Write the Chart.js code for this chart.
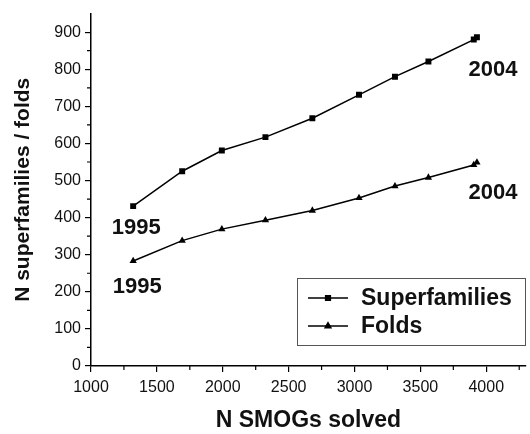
<!DOCTYPE html>
<html>
<head>
  <title>SMOGs solved</title>
  <script src="https://cdn.jsdelivr.net/npm/chart.js"></script>
  <style>
    body { margin: 0; background: #fff; }
    #wrap { width: 530px; height: 434px; position: relative; }
  </style>
</head>
<body>
  <div id="wrap"><canvas id="smogChart"></canvas></div>

  <script>
    // values
    const smogs = [1320, 1692, 1993, 2324, 2680, 3034, 3307, 3561, 3905, 3929];
    const superfamilies = [431, 525, 581, 617, 668, 731, 780, 821, 880, 886];
    const folds = [283, 338, 369, 393, 419, 453, 485, 508, 542, 549];
    const seriesNames = ['Superfamilies', 'Folds'];
    const xTicks = [1000, 1500, 2000, 2500, 3000, 3500, 4000];
    const yTicks = [0, 100, 200, 300, 400, 500, 600, 700, 800, 900];
    const startYear = '1995';
    const endYear = '2004';

    const toPoints = (ys) => smogs.map((x, i) => ({ x: x, y: ys[i] }));

    // minor ticks, year labels and the boxed legend
    const extras = {
      id: 'extras',
      afterDraw(chart) {
        const ctx = chart.ctx;
        const xs = chart.scales.x, ys = chart.scales.y;
        ctx.save();
        ctx.strokeStyle = '#000';
        ctx.lineWidth = 1.2;
        ctx.beginPath();
        for (let v = 1250; v < 4300; v += 500) {
          const px = xs.getPixelForValue(v);
          ctx.moveTo(px, xs.top); ctx.lineTo(px, xs.top + 4);
        }
        for (let v = 50; v < 950; v += 100) {
          const py = ys.getPixelForValue(v);
          ctx.moveTo(ys.right, py); ctx.lineTo(ys.right - 4, py);
        }
        ctx.stroke();

        // year labels next to first and last points
        ctx.fillStyle = '#111';
        ctx.font = 'bold 22px "Liberation Sans", Arial, sans-serif';
        ctx.textAlign = 'center';
        ctx.textBaseline = 'middle';
        const offs = [[3, 22, 16, 33], [4, 26, 16, 31]];
        chart.data.datasets.forEach((ds, i) => {
          const first = ds.data[0], last = ds.data[ds.data.length - 1];
          ctx.fillText(startYear, xs.getPixelForValue(first.x) + offs[i][0], ys.getPixelForValue(first.y) + offs[i][1]);
          ctx.fillText(endYear, xs.getPixelForValue(last.x) + offs[i][2], ys.getPixelForValue(last.y) + offs[i][3]);
        });

        // legend box
        const bx = 297, by = 278, bw = 228, bh = 67;
        ctx.strokeStyle = '#555';
        ctx.lineWidth = 1;
        ctx.strokeRect(bx + 0.5, by + 0.5, bw, bh);
        ctx.font = 'bold 23px "Liberation Sans", Arial, sans-serif';
        ctx.textAlign = 'left';
        chart.data.datasets.forEach((ds, i) => {
          const cy = by + 20 + i * 28;
          ctx.strokeStyle = '#000';
          ctx.lineWidth = 1.3;
          ctx.beginPath();
          ctx.moveTo(bx + 11, cy); ctx.lineTo(bx + 51, cy);
          ctx.stroke();
          Chart.helpers.drawPoint(ctx, { pointStyle: ds.pointStyle, radius: 3.5, borderWidth: 1 }, bx + 31, cy);
          ctx.fillStyle = '#000';
          ctx.fill();
          ctx.fillStyle = '#111';
          ctx.fillText(ds.label, bx + 64, cy + 1);
        });
        ctx.restore();
      }
    };

    const tickFont = { family: '"Liberation Sans", Arial, sans-serif', size: 16 };
    const plain = (v) => String(v);

    new Chart(document.getElementById('smogChart'), {
      type: 'line',
      data: {
        datasets: [
          {
            label: seriesNames[0],
            data: toPoints(superfamilies),
            borderColor: '#000',
            borderWidth: 1.5,
            pointStyle: 'rect',
            pointRadius: 4.2,
            pointBackgroundColor: '#000',
            pointBorderColor: '#000',
            pointBorderWidth: 0
          },
          {
            label: seriesNames[1],
            data: toPoints(folds),
            borderColor: '#000',
            borderWidth: 1.5,
            pointStyle: 'triangle',
            pointRadius: 4.2,
            pointBackgroundColor: '#000',
            pointBorderColor: '#000',
            pointBorderWidth: 0
          }
        ]
      },
      options: {
        responsive: true,
        maintainAspectRatio: false,
        animation: false,
        layout: { padding: { top: 13, left: 0, right: 0, bottom: 0 } },
        plugins: {
          legend: { display: false },
          tooltip: { enabled: false }
        },
        scales: {
          x: {
            type: 'linear',
            min: 1000,
            max: 4300,
            afterFit: (s) => { s.height = 68; },
            afterBuildTicks: (s) => { s.ticks = xTicks.map(v => ({ value: v })); },
            ticks: { color: '#111', font: tickFont, padding: 6, maxRotation: 0, autoSkip: false, callback: plain },
            grid: { drawOnChartArea: false, tickLength: 6, color: '#000', lineWidth: 1.2 },
            border: { color: '#000', width: 1.5 },
            title: {
              display: true,
              text: 'N SMOGs solved',
              color: '#111',
              font: { family: '"Liberation Sans", Arial, sans-serif', size: 23, weight: 'bold' },
              padding: { top: 0, bottom: 0 }
            }
          },
          y: {
            min: 0,
            max: 950,
            afterFit: (s) => { s.width = 91; },
            afterBuildTicks: (s) => { s.ticks = yTicks.map(v => ({ value: v })); },
            ticks: { color: '#111', font: tickFont, padding: 4, autoSkip: false, callback: plain },
            grid: { drawOnChartArea: false, tickLength: 6, color: '#000', lineWidth: 1.2 },
            border: { color: '#000', width: 1.5 },
            title: {
              display: true,
              text: 'N superfamilies / folds',
              color: '#111',
              font: { family: '"Liberation Sans", Arial, sans-serif', size: 21, weight: 'bold' },
              padding: { top: 11, bottom: 0 }
            }
          }
        }
      },
      plugins: [extras]
    });
  </script>
</body>
</html>
